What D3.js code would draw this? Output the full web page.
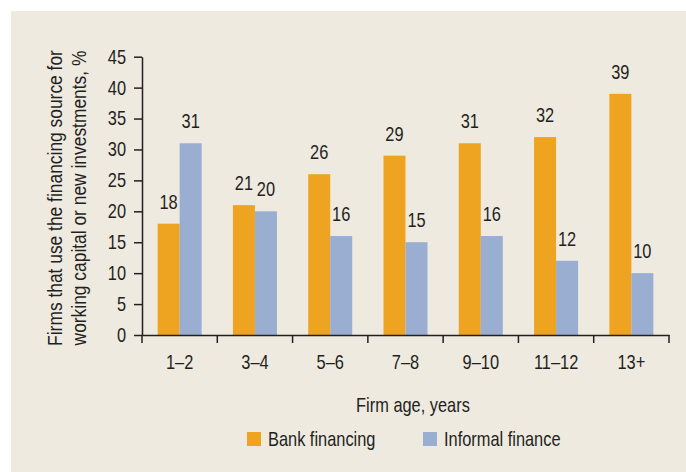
<!DOCTYPE html>
<html>
<head>
<meta charset="utf-8">
<script src="https://cdn.jsdelivr.net/npm/d3@7"></script>
<style>
  html, body { margin: 0; padding: 0; background: #ffffff; }
  svg text { font-family: "Liberation Sans", Arial, sans-serif; fill: #231f20; }
</style>
</head>
<body>
<svg id="chart" width="686" height="472"></svg>
<script>
const categories = ["1–2", "3–4", "5–6", "7–8", "9–10", "11–12", "13+"];
const seriesNames = ["Bank financing", "Informal finance"];
const bankFinancing = [18, 21, 26, 29, 31, 32, 39];
const informalFinance = [31, 20, 16, 15, 16, 12, 10];
const yTicks = [0, 5, 10, 15, 20, 25, 30, 35, 40, 45];
const colors = ["#eea321", "#99aed1"];
const yTitleLines = ["Firms that use the financing source for", "working capital or new investments, %"];
const xTitle = "Firm age, years";

const S = 0.82; // horizontal condensing of the font
function condense(sel, s) {
  sel.each(function () {
    const t = d3.select(this);
    const x0 = +(t.attr("x") || 0);
    t.attr("x", x0 / s).attr("transform", `scale(${s},1)`);
  });
}

const W = 686, H = 472;
const svg = d3.select("#chart");
svg.append("rect").attr("x", 11).attr("y", 11).attr("width", W - 11).attr("height", H - 11).attr("fill", "#eeeae0");

const m = { left: 142, right: 669, top: 56.7, bottom: 335 };
const x = d3.scaleBand().domain(categories).range([m.left, m.right]).padding(0);
const x1 = d3.scaleBand().domain(seriesNames).range([0, x.bandwidth()]).paddingInner(0).paddingOuter(0.71);
const y = d3.scaleLinear().domain([0, 45]).range([m.bottom, m.top]);

const data = categories.map((c, i) => ({ cat: c, vals: [bankFinancing[i], informalFinance[i]] }));

const groups = svg.append("g").selectAll("g").data(data).join("g")
  .attr("transform", d => `translate(${x(d.cat)},0)`);

groups.selectAll("rect").data(d => d.vals.map((v, k) => ({ v, k }))).join("rect")
  .attr("x", d => x1(seriesNames[d.k]))
  .attr("y", d => y(d.v))
  .attr("width", x1.bandwidth())
  .attr("height", d => y(0) - y(d.v))
  .attr("fill", d => colors[d.k]);

groups.selectAll("text.val").data(d => d.vals.map((v, k) => ({ v, k }))).join("text")
  .attr("class", "val")
  .attr("x", d => x1(seriesNames[d.k]) + x1.bandwidth() / 2)
  .attr("y", d => y(d.v) - 15)
  .attr("text-anchor", "middle")
  .attr("font-size", 20)
  .text(d => d.v)
  .call(condense, S);

// Y axis
const yAxis = svg.append("g").attr("transform", `translate(${m.left},0)`)
  .call(d3.axisLeft(y).tickValues(yTicks).tickSize(8).tickPadding(8).tickSizeOuter(0));
yAxis.select(".domain").attr("stroke", "#231f20").attr("stroke-width", 1.5);
yAxis.selectAll(".tick line").attr("stroke", "#231f20").attr("stroke-width", 1.5);
yAxis.selectAll(".tick text").attr("font-size", 20).attr("font-family", null).attr("fill", "#231f20").call(condense, S);

// X axis
const xAxis = svg.append("g").attr("transform", `translate(0,${m.bottom})`)
  .call(d3.axisBottom(x).tickSize(0).tickPadding(20).tickSizeOuter(0));
xAxis.select(".domain").attr("stroke", "#231f20").attr("stroke-width", 1.5);
xAxis.selectAll(".tick text").attr("font-size", 20).attr("font-family", null).attr("fill", "#231f20").call(condense, S);
const bounds = categories.map(c => x(c)).concat([x.range()[1]]);
xAxis.selectAll("line.bt").data(bounds).join("line").attr("class", "bt")
  .attr("x1", d => d).attr("x2", d => d).attr("y1", 0).attr("y2", 8)
  .attr("stroke", "#231f20").attr("stroke-width", 1.5);

// Axis titles
svg.append("text").attr("x", 413).attr("y", 412).attr("text-anchor", "middle").attr("font-size", 20).text(xTitle).call(condense, S);
const ytg = svg.append("g").attr("transform", `translate(0,198) rotate(-90)`);
ytg.selectAll("text").data(yTitleLines).join("text")
  .attr("x", 0).attr("y", (d, i) => 62 + i * 24)
  .attr("text-anchor", "middle").attr("font-size", 20)
  .text(d => d)
  .call(condense, 0.87);

// Legend
const legX = [247, 423];
const leg = svg.append("g").selectAll("g").data(seriesNames).join("g")
  .attr("transform", (d, i) => `translate(${legX[i]},432)`);
leg.append("rect").attr("width", 14).attr("height", 14).attr("fill", (d, i) => colors[i]);
leg.append("text").attr("x", 21).attr("y", 14).attr("font-size", 20).text(d => d).call(condense, S);
</script>
</body>
</html>
